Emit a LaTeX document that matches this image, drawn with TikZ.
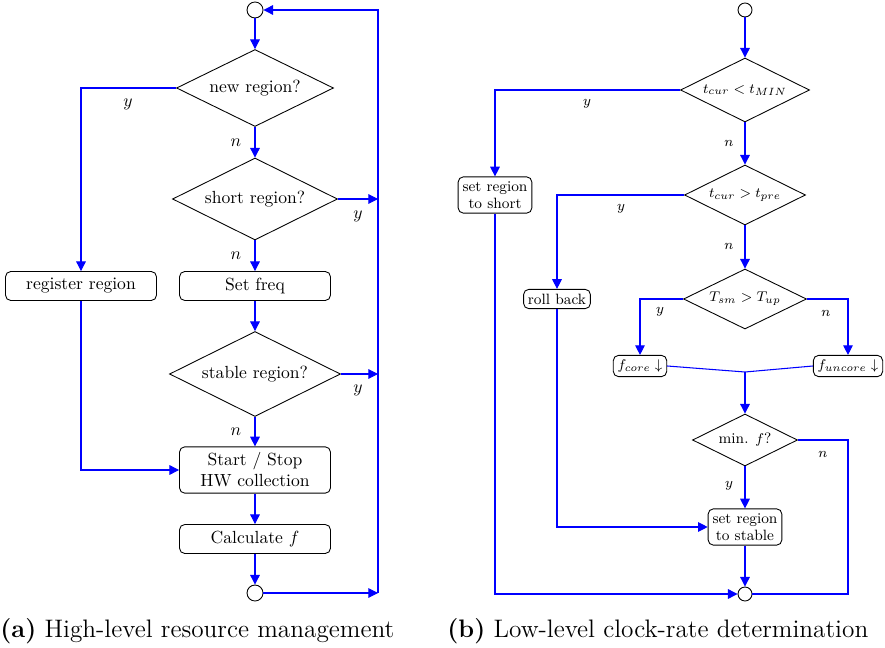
\documentclass[tikz,border=0pt]{standalone}
\usepackage{amsmath}
\usetikzlibrary{shapes, arrows.meta}

\begin{document}
\begin{tikzpicture}[x=0.02cm, y=-0.02cm,
  decision/.style={diamond, draw, line width=0.5pt, aspect=2, inner sep=0pt, align=center},
  block/.style={rectangle, draw, line width=0.5pt, rounded corners=3pt, align=center, minimum width=3.02cm, minimum height=0.58cm},
  smallblock/.style={rectangle, draw, line width=0.5pt, rounded corners=3pt, align=center, inner sep=2.5pt, font=\fontsize{8.5}{10}\selectfont},
  joint/.style={circle, draw, line width=0.5pt, inner sep=0pt, minimum size=#1},
  joint/.default=0.32cm,
  lbl/.style={inner sep=0pt},
  smalllbl/.style={inner sep=0pt, font=\fontsize{8.5}{10}\selectfont},
  flow/.style={draw=blue, line width=0.6pt, -{Triangle[length=5.5pt, width=5.5pt]}},
  line/.style={draw=blue, line width=0.6pt}]
\useasboundingbox (0,0) rectangle (885,648);

% High-level resource management

\node[joint] (topa) at (255,10) {};
\node[decision, minimum width=3.14cm, minimum height=1.54cm] (newreg) at (255,88) {new region?};
\node[decision, minimum width=3.3cm, minimum height=1.64cm] (shortreg) at (255,199) {short region?};
\node[block] (register) at (81,286) {register region};
\node[block] (setfreq) at (255,286) {Set freq};
\node[decision, minimum width=3.42cm, minimum height=1.7cm] (stablereg) at (255,374) {stable region?};
\node[block, minimum height=0.9cm] (hwcoll) at (255,470) {Start / Stop\\HW collection};
\node[block] (calc) at (255,539) {Calculate $f$};
\node[joint] (bota) at (255,593) {};
\coordinate (loopa) at (378,593);

\node[lbl] (ynew) at (128,104) {$y$};
\node[lbl] (nnew) at (236,143) {$n$};
\node[lbl] (yshort) at (358,216) {$y$};
\node[lbl] (nshort) at (236,256) {$n$};
\node[lbl] (ystable) at (358,390) {$y$};
\node[lbl] (nstable) at (236,432) {$n$};

\draw[flow] (topa) -- (newreg);
\draw[flow] (newreg) -- (shortreg);
\draw[flow] (newreg.west) -| (register.north);
\draw[flow] (shortreg) -- (setfreq);
\draw[flow] (shortreg.east) -- (shortreg.east -| loopa);
\draw[flow] (setfreq) -- (stablereg);
\draw[flow] (stablereg.east) -- (stablereg.east -| loopa);
\draw[flow] (stablereg) -- (hwcoll);
\draw[flow] (register.south) |- (hwcoll.west);
\draw[flow] (hwcoll) -- (calc);
\draw[flow] (calc) -- (bota);
\draw[flow] (bota) -- (loopa);
\draw[flow] (loopa) |- (topa);

% Low-level clock-rate determination

\node[joint=0.28cm] (topb) at (745,10) {};
\node[decision, font=\fontsize{8.5}{10}\selectfont, minimum width=2.58cm, minimum height=1.28cm] (tmin) at (745,90) {$t_{cur} < t_{MIN}$};
\node[smallblock] (toshort) at (495,195) {set region\\to short};
\node[decision, font=\fontsize{8.5}{10}\selectfont, minimum width=2.42cm, minimum height=1.2cm] (tpre) at (745,195) {$t_{cur} > t_{pre}$};
\node[smallblock] (rollback) at (557,299) {roll back};
\node[decision, font=\fontsize{8.5}{10}\selectfont, minimum width=2.46cm, minimum height=1.2cm] (tup) at (745,299) {$T_{sm} > T_{up}$};
\node[smallblock] (fcore) at (640,366) {$f_{core}\downarrow$};
\node[smallblock] (funcore) at (848,366) {$f_{uncore}\downarrow$};
\coordinate (merge) at (745,372);
\node[decision, font=\fontsize{8.5}{10}\selectfont, minimum width=2.1cm, minimum height=1.04cm] (minf) at (745,440) {min. $f$?};
\node[smallblock] (tostable) at (745,527) {set region\\to stable};
\node[joint=0.28cm] (botb) at (745,594) {};

\node[smalllbl] (ytmin) at (587,104) {$y$};
\node[smalllbl] (ntmin) at (729,143) {$n$};
\node[smalllbl] (ytpre) at (621,209) {$y$};
\node[smalllbl] (ntpre) at (729,246) {$n$};
\node[smalllbl] (ytup) at (660,312) {$y$};
\node[smalllbl] (ntup) at (826,313) {$n$};
\node[smalllbl] (nminf) at (823,454) {$n$};
\node[smalllbl] (yminf) at (729,486) {$y$};

\draw[flow] (topb) -- (tmin);
\draw[flow] (tmin.west) -| (toshort.north);
\draw[flow] (tmin) -- (tpre);
\draw[flow] (tpre.west) -| (rollback.north);
\draw[flow] (tpre) -- (tup);
\draw[flow] (tup.west) -| (fcore.north);
\draw[flow] (tup.east) -| (funcore.north);
\draw[line] (fcore.east) -- (merge) -- (funcore.west);
\draw[flow] (merge) -- (minf);
\draw[flow] (minf) -- (tostable);
\draw[flow] (rollback.south) |- (tostable.west);
\draw[flow] (tostable) -- (botb);
\draw[flow] (toshort.south) |- (botb.west);
\draw[line] (minf.east) -| (funcore.south |- botb.east) -- (botb.east);

% Captions

\node[anchor=base west, inner sep=0pt, font=\Large] (capa) at (0,637) {\textbf{(a)} High-level resource management};
\node[anchor=base west, inner sep=0pt, font=\Large] (capb) at (447,637) {\textbf{(b)} Low-level clock-rate determination};

\end{tikzpicture}
\end{document}
